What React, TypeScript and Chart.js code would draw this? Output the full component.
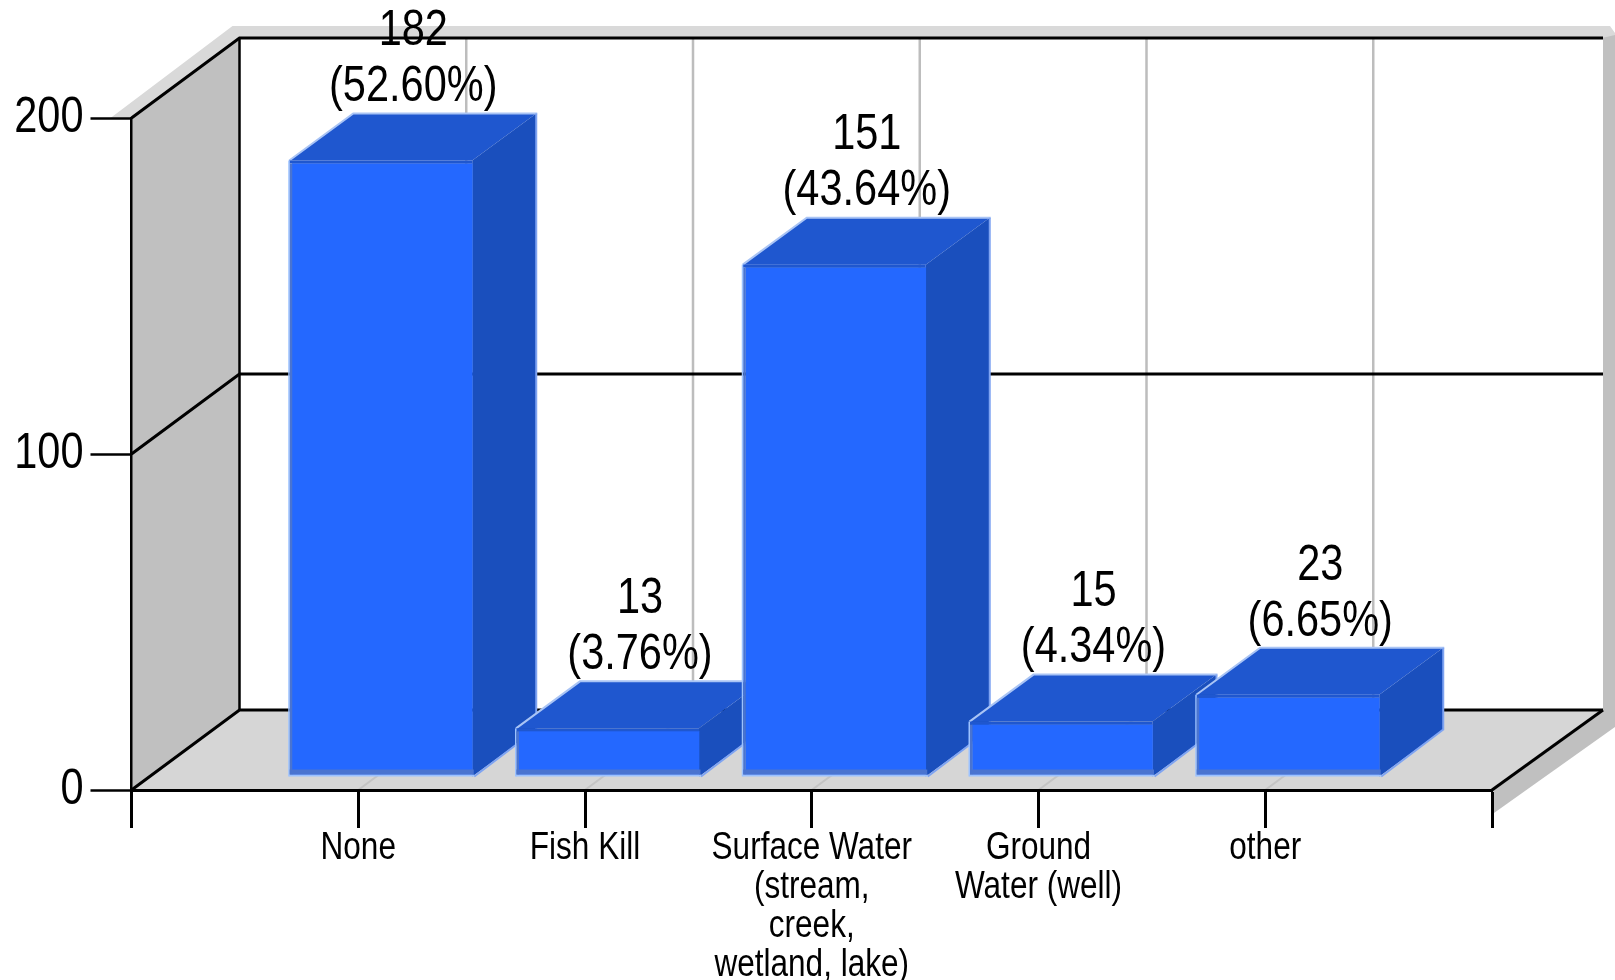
import React, { useEffect, useRef } from "react";
import { Chart, registerables } from "chart.js";

Chart.register(...registerables);

const categories: (string | string[])[] = [
  "None",
  "Fish Kill",
  ["Surface Water", "(stream,", "creek,", "wetland, lake)"],
  ["Ground", "Water (well)"],
  "other",
];
const counts = [182, 13, 151, 15, 23];
const percents = ["(52.60%)", "(3.76%)", "(43.64%)", "(4.34%)", "(6.65%)"];
const axisMax = 200;
const axisStep = 100;

const FONT = '"Liberation Sans", Arial, sans-serif';
const TEXT_SQUEEZE = 0.83;
const WALL_DX = 108;
const WALL_DY = -80;
const BAR_DX = 24;
const BAR_DY = -15;
const FACE_DX = 64;
const FACE_DY = -47;

function poly(ctx: CanvasRenderingContext2D, pts: number[][], fill?: string, stroke?: string, lw = 2) {
  ctx.beginPath();
  pts.forEach((p, i) => (i ? ctx.lineTo(p[0], p[1]) : ctx.moveTo(p[0], p[1])));
  if (fill) {
    ctx.closePath();
    ctx.fillStyle = fill;
    ctx.fill();
  }
  if (stroke) {
    ctx.strokeStyle = stroke;
    ctx.lineWidth = lw;
    ctx.stroke();
  }
}

const box3d = {
  id: "box3d",
  beforeDraw(chart: any) {
    const { ctx, chartArea: a, scales } = chart;
    const W = chart.width;
    const backL = a.left + WALL_DX;
    const backR = a.right + WALL_DX + 3;
    const backB = a.bottom + WALL_DY;
    const backT = a.top + WALL_DY;
    ctx.save();
    // drop shadows behind the box
    poly(ctx, [[a.left - 21, a.top], [backL - 7, backT - 12], [W - 5, backT - 12], [W, backT - 5], [W, backT + 1], [backL, backT + 1], [a.left, a.top + 1]], "#d9d9d9");
    poly(ctx, [[backR - 1, backT], [W, backT - 3], [W, backB + 17], [a.right + 2, a.bottom + 23], [a.right, a.bottom]], "#c0c0c0");
    // walls and floor
    poly(ctx, [[backL, backT], [backR, backT], [backR, backB], [backL, backB]], "#ffffff");
    poly(ctx, [[a.left, a.top], [backL, backT], [backL, backB], [a.left, a.bottom]], "#c0c0c0");
    poly(ctx, [[a.left, a.bottom], [a.right, a.bottom], [backR, backB], [backL, backB]], "#d6d6d6");
    // vertical grid on back wall and floor
    const xs = scales.x;
    categories.forEach((_, i) => {
      const x = xs.getPixelForValue(i + 1);
      poly(ctx, [[x + WALL_DX, backT], [x + WALL_DX, backB]], undefined, "#bdbdbd", 2.5);
      poly(ctx, [[x, a.bottom], [x + WALL_DX, backB]], undefined, "#c4c4c4", 2);
    });
    // horizontal grid, running round the wall
    const ys = scales.y;
    for (let v = 0; v <= axisMax; v += axisStep) {
      const y = ys.getPixelForValue(v);
      poly(ctx, [[a.left, y], [backL, y + WALL_DY], [backR, y + WALL_DY]], undefined, "#000000", 3);
    }
    poly(ctx, [[a.right, a.bottom], [backR, backB]], undefined, "#000000", 3);
    poly(ctx, [[backL, backT], [backL, backB]], undefined, "#000000", 2.5);
    ctx.restore();
  },
  beforeDatasetDraw(chart: any, args: any) {
    const { ctx } = chart;
    const meta = chart.getDatasetMeta(args.index);
    ctx.save();
    ctx.translate(BAR_DX, BAR_DY);
    meta.data.forEach((el: any, i: number) => {
      if (chart.data.datasets[args.index].data[i] == null) return;
      const p = el.getProps(["x", "y", "base", "width"], true);
      const L = p.x - p.width / 2;
      const R = p.x + p.width / 2;
      const T = p.y - 3;
      const B = p.base;
      // top and side faces
      poly(ctx, [[L - 3, T], [L - 3 + FACE_DX, T + FACE_DY], [R + FACE_DX, T + FACE_DY], [R, T]], "#1f57cf");
      poly(ctx, [[R, T], [R + FACE_DX, T + FACE_DY], [R + FACE_DX, B + FACE_DY + 2], [R, B + 2]], "#1a4fbd");
      // pale edges of the block
      poly(ctx, [[L - 3, T], [L - 3 + FACE_DX, T + FACE_DY], [R + FACE_DX + 1, T + FACE_DY]], undefined, "#a9c4f5", 2);
      poly(ctx, [[R + FACE_DX, T + FACE_DY], [R + FACE_DX, B + FACE_DY + 2], [R + 2, B + 2]], undefined, "#7fa4f2", 2);
      // front face
      el.draw(ctx, chart.chartArea);
      ctx.fillStyle = "#1f57cf";
      ctx.fillRect(L - 3, T, p.width + 3, 3);
      ctx.fillStyle = "#9cc2ff";
      ctx.fillRect(L - 4, T, 1.5, B - T + 2);
      ctx.fillRect(L - 3, B, p.width + 5, 2);
      ctx.fillStyle = "#4a74d0";
      ctx.fillRect(L - 2.5, T + 3, 2.5, B - T - 3);
      ctx.fillRect(L - 2.5, B - 5, p.width + 4, 5);
    });
    ctx.restore();
    return false;
  },
  afterDatasetsDraw(chart: any) {
    const { ctx } = chart;
    const meta = chart.getDatasetMeta(0);
    ctx.save();
    ctx.font = `50px ${FONT}`;
    ctx.fillStyle = "#000000";
    ctx.textAlign = "center";
    ctx.textBaseline = "middle";
    counts.forEach((count, i) => {
      const el = meta.data[i + 1];
      const p = el.getProps(["x", "y"], true);
      const cx = p.x + BAR_DX + FACE_DX / 2 - 1;
      const top = p.y + BAR_DY - 3 + FACE_DY;
      ctx.fillText(String(count), cx, top - 82);
      ctx.fillText(percents[i], cx, top - 26);
    });
    ctx.restore();
  },
};

export default function App() {
  const ref = useRef<HTMLCanvasElement>(null);
  useEffect(() => {
    const canvas = ref.current!;
    // The reference's lettering is narrower than any installed face, so every
    // text run is squeezed horizontally about its own anchor point.
    const c = canvas.getContext("2d")! as any;
    const rawFillText = c.fillText.bind(c);
    c.fillText = (text: string, x: number, y: number) => {
      c.save();
      c.translate(x, y);
      c.scale(TEXT_SQUEEZE, 1);
      rawFillText(text, 0, 0);
      c.restore();
    };
    const chart = new Chart(canvas, {
      type: "bar",
      data: {
        labels: ["", ...categories, ""] as any,
        datasets: [
          {
            data: [null, ...counts, null] as any,
            backgroundColor: "#2468ff",
            borderWidth: 0,
            barThickness: 180,
          },
        ],
      },
      plugins: [box3d],
      options: {
        responsive: false,
        animation: false,
        devicePixelRatio: 1,
        layout: { padding: { top: 118, right: 123, left: 0, bottom: 0 } },
        plugins: { legend: { display: false }, tooltip: { enabled: false } },
        scales: {
          x: {
            offset: false,
            afterFit: (s: any) => {
              s.height = 190;
            },
            grid: { offset: false, drawOnChartArea: false, tickLength: 38, tickColor: "#000", tickWidth: 3 },
            border: { color: "#000", width: 3 },
            ticks: {
              autoSkip: false,
              maxRotation: 0,
              minRotation: 0,
              padding: 1,
              color: "#000",
              font: { family: FONT, size: 38, lineHeight: 1.03 },
            },
          },
          y: {
            min: 0,
            max: axisMax,
            afterFit: (s: any) => {
              s.width = 131.5;
            },
            grid: { drawOnChartArea: false, tickLength: 41, tickColor: "#000", tickWidth: 2.5 },
            border: { color: "#000", width: 2.5 },
            ticks: {
              stepSize: axisStep,
              padding: 7,
              color: "#000",
              font: { family: FONT, size: 50 },
            },
          },
        },
      } as any,
    });
    return () => chart.destroy();
  }, []);
  return (
    <div style={{ position: "absolute", left: 0, top: 0, width: 1615, height: 980, background: "#fff" }}>
      <canvas ref={ref} width={1615} height={980} style={{ display: "block" }} />
    </div>
  );
}
